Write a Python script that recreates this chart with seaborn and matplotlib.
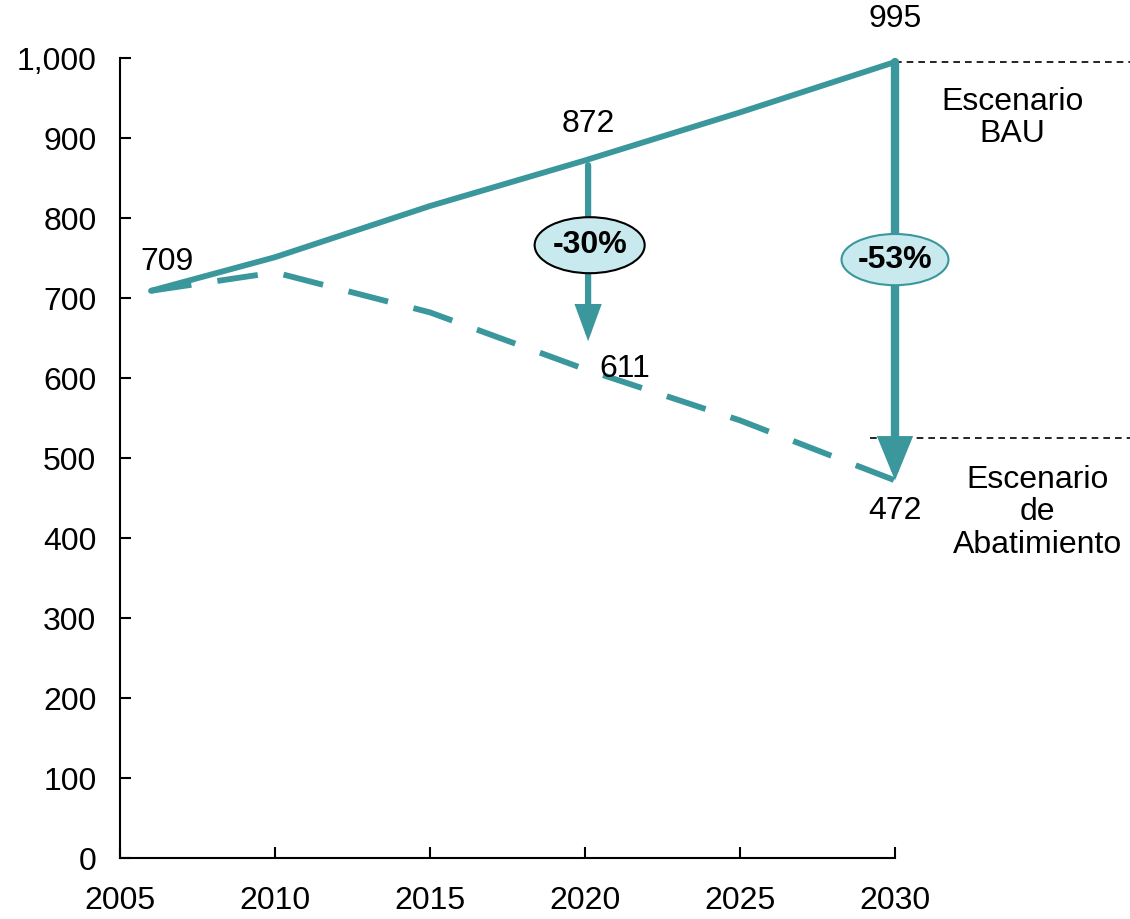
import matplotlib
matplotlib.use("Agg")
import matplotlib.pyplot as plt
import seaborn as sns
import pandas as pd
from matplotlib.patches import Ellipse

years = [2006, 2010, 2015, 2020, 2025, 2030]
bau = [709, 751, 815, 872, 932, 995]
abatimiento = [709, 732, 682, 611, 547, 472]
xticks = [2005, 2010, 2015, 2020, 2025, 2030]
yticks = [0, 100, 200, 300, 400, 500, 600, 700, 800, 900, 1000]
ytick_labels = ["0", "100", "200", "300", "400", "500", "600", "700", "800", "900", "1,000"]

teal = "#3a979c"
fill = "#c8e9ee"
FS = 23

sns.set_theme(style="white")
plt.rcParams["font.family"] = ["Liberation Sans", "DejaVu Sans"]
plt.rcParams["text.color"] = "black"

fig = plt.figure(figsize=(11.3, 9.19), dpi=100)
ax = fig.add_axes([120/1130, 61/919, 775/1130, 800/919])

df = pd.DataFrame({"year": years, "BAU": bau, "Abat": abatimiento})
sns.lineplot(data=df, x="year", y="BAU", ax=ax, color=teal, lw=4.2)
sns.lineplot(data=df, x="year", y="Abat", ax=ax, color=teal, lw=4.2)
ax.lines[1].set_dashes((7, 4.5))
ax.lines[1].set_dash_capstyle("butt")

ax.set_xlim(2005, 2030)
ax.set_ylim(0, 1000)
ax.set_xticks(xticks)
ax.set_xticklabels([str(x) for x in xticks])
ax.set_yticks(yticks)
ax.set_yticklabels(ytick_labels)
ax.set_xlabel("")
ax.set_ylabel("")
for s in ["top", "right"]:
    ax.spines[s].set_visible(False)
for s in ["left", "bottom"]:
    ax.spines[s].set_color("black")
    ax.spines[s].set_linewidth(1.5)
ax.tick_params(axis="both", direction="in", length=8, width=1.5, colors="black",
               labelsize=FS, left=True, bottom=True)
ax.tick_params(axis="x", pad=20)
ax.tick_params(axis="y", pad=17)

# value labels
ax.text(2006.5, 726, "709", fontsize=FS, ha="center", va="bottom")
ax.text(2020.1, 899, "872", fontsize=FS, ha="center", va="bottom")
ax.text(2021.3, 611, "611", fontsize=FS, ha="center", va="center")
ax.text(2030, 1030, "995", fontsize=FS, ha="center", va="bottom", clip_on=False)
ax.text(2030, 434, "472", fontsize=FS, ha="center", va="center")

# arrows
ax.annotate("", xy=(2020.1, 646), xytext=(2020.1, 866),
            arrowprops=dict(arrowstyle="-|>,head_width=0.33,head_length=0.9",
                            mutation_scale=20, color=teal, lw=4.5,
                            joinstyle="miter", shrinkA=0, shrinkB=0))
ax.annotate("", xy=(2030, 472), xytext=(2030, 995),
            arrowprops=dict(arrowstyle="-|>,head_width=0.43,head_length=1.05",
                            mutation_scale=20, color=teal, lw=6,
                            joinstyle="miter", shrinkA=0, shrinkB=0))

# ellipses
e1 = Ellipse((2020.15, 766), width=3.55, height=70, facecolor=fill, edgecolor="black",
             lw=1.5, zorder=5)
ax.add_patch(e1)
ax.text(2020.15, 766, "-30%", fontsize=FS, fontweight="bold", ha="center", va="center", zorder=6)
e2 = Ellipse((2030, 748), width=3.45, height=64, facecolor=fill, edgecolor=teal,
             lw=1.5, zorder=5, clip_on=False)
ax.add_patch(e2)
ax.text(2030, 748, "-53%", fontsize=FS, fontweight="bold", ha="center", va="center",
        zorder=6, clip_on=False)

# dashed reference lines
ax.plot([2030, 2037.6], [995, 995], color="black", lw=1.2, ls=(0, (4, 3)), clip_on=False)
ax.plot([2029.2, 2037.6], [525, 525], color="black", lw=1.2, ls=(0, (4, 3)), clip_on=False)

ax.text(2033.8, 925, "Escenario\nBAU", fontsize=FS, ha="center", va="center",
        linespacing=1.1, clip_on=False)
ax.text(2034.6, 432, "Escenario\nde\nAbatimiento", fontsize=FS, ha="center", va="center",
        linespacing=1.1, clip_on=False)

fig.savefig("out.png", dpi=100)
